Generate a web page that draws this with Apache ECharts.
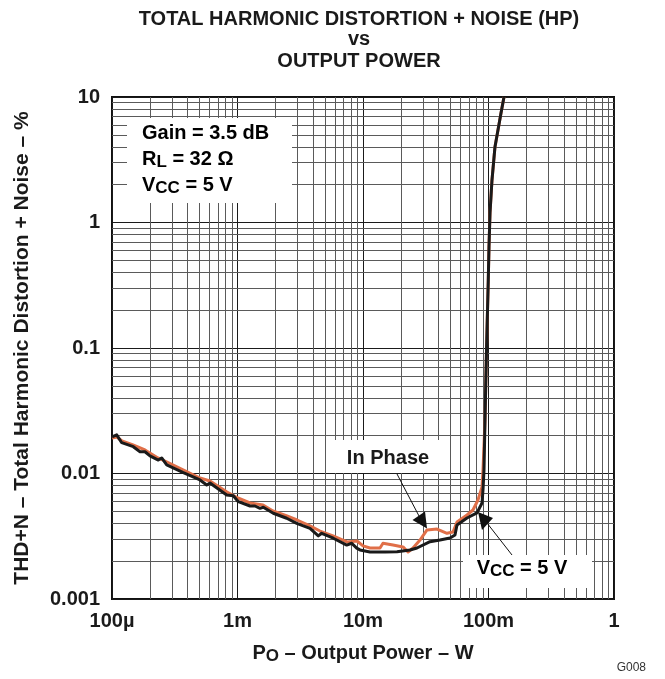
<!DOCTYPE html>
<html>
<head>
<meta charset="utf-8">
<script src="https://cdn.jsdelivr.net/npm/echarts@6/dist/echarts.min.js"></script>
<style>
html,body{margin:0;padding:0;background:#fff;}
#chart{width:665px;height:679px;}
</style>
</head>
<body>
<div id="chart"></div>
<script>
// ---- Data ----
const powerBlack = [1.00e-4, 1.09e-4, 1.195e-4, 1.478e-4, 1.672e-4, 1.832e-4, 2.008e-4, 2.338e-4, 2.489e-4, 2.729e-4, 3.70e-4, 5.025e-4, 5.683e-4, 6.037e-4, 8.20e-4, 9.26e-4, 1.015e-3, 1.258e-3, 1.379e-3, 1.511e-3, 1.605e-3, 1.928e-3, 2.466e-3, 2.963e-3, 3.781e-3, 4.404e-3, 4.687e-3, 5.80e-3, 7.418e-3, 8.127e-3, 8.91e-3, 9.46e-3, 1.137e-2, 1.497e-2, 1.866e-2, 2.368e-2, 2.693e-2, 3.419e-2, 4.107e-2, 4.934e-2, 5.408e-2, 5.61e-2, 6.74e-2, 8.096e-2, 8.88e-2, 9.04e-2, 9.21e-2, 9.38e-2, 9.64e-2, 9.96e-2, 0.1009, 0.1028, 0.1066, 0.1126, 0.1258, 0.1329];
const thdBlack = [0.0196, 0.0203, 0.0176, 0.01635, 0.0149, 0.0149, 0.0138, 0.0128, 0.0133, 0.0117, 0.01015, 0.00888, 0.0081, 0.0084, 0.00674, 0.00665, 0.00596, 0.00551, 0.00551, 0.00528, 0.00538, 0.00482, 0.0044, 0.00401, 0.00366, 0.00318, 0.00334, 0.00305, 0.00269, 0.00278, 0.00254, 0.00246, 0.00237, 0.00237, 0.00238, 0.00246, 0.00255, 0.00286, 0.00295, 0.00306, 0.00324, 0.00389, 0.00442, 0.00485, 0.00582, 0.00739, 0.0107, 0.0267, 0.0964, 0.348, 0.638, 1.19, 2.18, 4.00, 7.46, 10];

const powerInPhase = [1.0e-4, 1.096e-4, 1.201e-4, 1.47e-4, 1.832e-4, 2.325e-4, 2.744e-4, 3.68e-4, 5.025e-4, 6.037e-4, 8.25e-4, 1.009e-3, 1.258e-3, 1.597e-3, 1.918e-3, 2.48e-3, 2.98e-3, 3.781e-3, 4.543e-3, 5.77e-3, 7.46e-3, 8.96e-3, 1.0e-2, 1.137e-2, 1.366e-2, 1.443e-2, 1.734e-2, 2.083e-2, 2.284e-2, 2.503e-2, 2.846e-2, 3.236e-2, 3.887e-2, 4.67e-2, 5.213e-2, 5.61e-2, 6.74e-2, 7.52e-2, 8.246e-2, 8.88e-2, 9.04e-2, 9.38e-2, 9.64e-2, 9.96e-2, 0.1009, 0.1028, 0.1066, 0.1126, 0.1258, 0.1329];
const thdInPhase = [0.0192, 0.01954, 0.01815, 0.01687, 0.0154, 0.0133, 0.01235, 0.01067, 0.00921, 0.00872, 0.00712, 0.00638, 0.00582, 0.00561, 0.00503, 0.00459, 0.00426, 0.00382, 0.00348, 0.00318, 0.00285, 0.0029, 0.00265, 0.00255, 0.00255, 0.00278, 0.00269, 0.0026, 0.00237, 0.00255, 0.00295, 0.00355, 0.00361, 0.00334, 0.00342, 0.00411, 0.00467, 0.00512, 0.00615, 0.00781, 0.0107, 0.0267, 0.0964, 0.348, 0.638, 1.19, 2.18, 4.00, 7.46, 10];

const xTickValues = [1e-4, 1e-3, 1e-2, 1e-1, 1];
const xTickLabels = ['100µ', '1m', '10m', '100m', '1'];
const yTickValues = [0.001, 0.01, 0.1, 1, 10];
const yTickLabels = ['0.001', '0.01', '0.1', '1', '10'];

const titleLines = ['TOTAL HARMONIC DISTORTION + NOISE (HP)', 'vs', 'OUTPUT POWER'];

// ---- helpers ----
function pairs(xs, ys) { return xs.map((x, i) => [x, ys[i]]); }
function lookup(v, vals, labels) {
  for (let i = 0; i < vals.length; i++) {
    if (Math.abs(Math.log10(v) - Math.log10(vals[i])) < 1e-6) return labels[i];
  }
  return '';
}
// minor log grid lines (2..9 within each decade)
function minorLines(minExp, maxExp, key) {
  const out = [];
  for (let e = minExp; e < maxExp; e++) {
    for (let k = 2; k <= 9; k++) {
      const o = {}; o[key] = k * Math.pow(10, e); out.push(o);
    }
  }
  return out;
}

const FONT = '"Liberation Sans", Arial, Helvetica, sans-serif';
const TXT = '#1a1a1a';
const richSub = {
  a: { fontFamily: FONT, fontSize: 20, fontWeight: 'bold', color: TXT, lineHeight: 24 },
  s: { fontFamily: FONT, fontSize: 17, fontWeight: 'bold', color: TXT, lineHeight: 10, verticalAlign: 'bottom' }
};

const chart = echarts.init(document.getElementById('chart'), null, { renderer: 'canvas' });

const option = {
  animation: false,
  backgroundColor: '#fff',
  grid: { left: 112, right: 51, top: 97, bottom: 80, show: true, borderColor: '#111', borderWidth: 2, backgroundColor: 'transparent' },
  xAxis: {
    type: 'log', logBase: 10, min: 1e-4, max: 1,
    axisLine: { show: false }, axisTick: { show: false },
    splitLine: { show: true, lineStyle: { color: '#1a1a1a', width: 1 } },
    axisLabel: {
      margin: 12, fontFamily: FONT, fontSize: 20, fontWeight: 'bold', color: TXT,
      formatter: v => lookup(v, xTickValues, xTickLabels)
    },
    name: '{a|P}{s|O}{a| – Output Power – W}',
    nameLocation: 'middle', nameGap: 42,
    nameTextStyle: { rich: richSub }
  },
  yAxis: {
    type: 'log', logBase: 10, min: 0.001, max: 10,
    axisLine: { show: false }, axisTick: { show: false },
    splitLine: { show: true, lineStyle: { color: '#1a1a1a', width: 1 } },
    axisLabel: {
      margin: 12, fontFamily: FONT, fontSize: 20, fontWeight: 'bold', color: TXT,
      formatter: v => lookup(v, yTickValues, yTickLabels)
    },
    name: 'THD+N – Total Harmonic Distortion + Noise – %',
    nameLocation: 'middle', nameGap: 79,
    nameTextStyle: { fontFamily: FONT, fontSize: 21, fontWeight: 'bold', color: TXT }
  },
  series: [
    {
      type: 'line', data: [], z: 1, silent: true,
      markLine: {
        z: 1,
        silent: true, symbol: ['none', 'none'], animation: false,
        precision: 12,
        label: { show: false },
        lineStyle: { color: '#5a5a5a', width: 1, type: 'solid' },
        emphasis: { disabled: true },
        data: minorLines(-4, 0, 'xAxis').concat(minorLines(-3, 1, 'yAxis'))
      }
    },
    {
      name: 'In Phase', type: 'line', z: 3, showSymbol: false, smooth: false,
      data: pairs(powerInPhase, thdInPhase),
      lineStyle: { color: '#e06f48', width: 3, join: 'round' }
    },
    {
      name: 'VCC = 5 V', type: 'line', z: 4, showSymbol: false, smooth: false,
      data: pairs(powerBlack, thdBlack),
      lineStyle: { color: '#1a1a1a', width: 3, join: 'round' }
    }
  ],
  graphic: [
    // title
    { type: 'text', z: 10, style: { x: 359, y: 19, text: titleLines[0], textAlign: 'center', textVerticalAlign: 'middle', font: 'bold 20px ' + FONT, fill: TXT } },
    { type: 'text', z: 10, style: { x: 359, y: 39, text: titleLines[1], textAlign: 'center', textVerticalAlign: 'middle', font: 'bold 20px ' + FONT, fill: TXT } },
    { type: 'text', z: 10, style: { x: 359, y: 61, text: titleLines[2], textAlign: 'center', textVerticalAlign: 'middle', font: 'bold 20px ' + FONT, fill: TXT } },
    // conditions box
    { type: 'rect', z: 2, shape: { x: 127, y: 118, width: 165, height: 85 }, style: { fill: '#fff' } },
    { type: 'text', z: 10, style: { x: 142, y: 133, text: '{a|Gain = 3.5 dB}', rich: richSub, textVerticalAlign: 'middle' } },
    { type: 'text', z: 10, style: { x: 142, y: 159, text: '{a|R}{s|L}{a| = 32 Ω}', rich: richSub, textVerticalAlign: 'middle' } },
    { type: 'text', z: 10, style: { x: 142, y: 185, text: '{a|V}{s|CC}{a| = 5 V}', rich: richSub, textVerticalAlign: 'middle' } },
    // In Phase annotation
    { type: 'rect', z: 2, shape: { x: 328, y: 440, width: 120, height: 33 }, style: { fill: '#fff' } },
    { type: 'text', z: 10, style: { x: 388, y: 458, text: 'In Phase', textAlign: 'center', textVerticalAlign: 'middle', font: 'bold 20px ' + FONT, fill: TXT } },
    { type: 'line', z: 10, shape: { x1: 397, y1: 474, x2: 419, y2: 516 }, style: { stroke: '#111', lineWidth: 1 } },
    { type: 'polygon', z: 10, shape: { points: [[412.5, 520], [425, 511.5], [427, 528.5]] }, style: { fill: '#111' } },
    // VCC annotation
    { type: 'rect', z: 2, shape: { x: 463, y: 555, width: 129, height: 33 }, style: { fill: '#fff' } },
    { type: 'text', z: 10, style: { x: 522, y: 568, text: '{a|V}{s|CC}{a| = 5 V}', rich: richSub, textAlign: 'center', textVerticalAlign: 'middle' } },
    { type: 'line', z: 10, shape: { x1: 512, y1: 555, x2: 487, y2: 523 }, style: { stroke: '#111', lineWidth: 1 } },
    { type: 'polygon', z: 10, shape: { points: [[478, 512], [493, 518], [482, 530]] }, style: { fill: '#111' } },
    // figure id
    { type: 'text', z: 10, style: { x: 646, y: 668, text: 'G008', textAlign: 'right', textVerticalAlign: 'middle', font: '12px ' + FONT, fill: '#333' } }
  ]
};
chart.setOption(option);
</script>
</body>
</html>
